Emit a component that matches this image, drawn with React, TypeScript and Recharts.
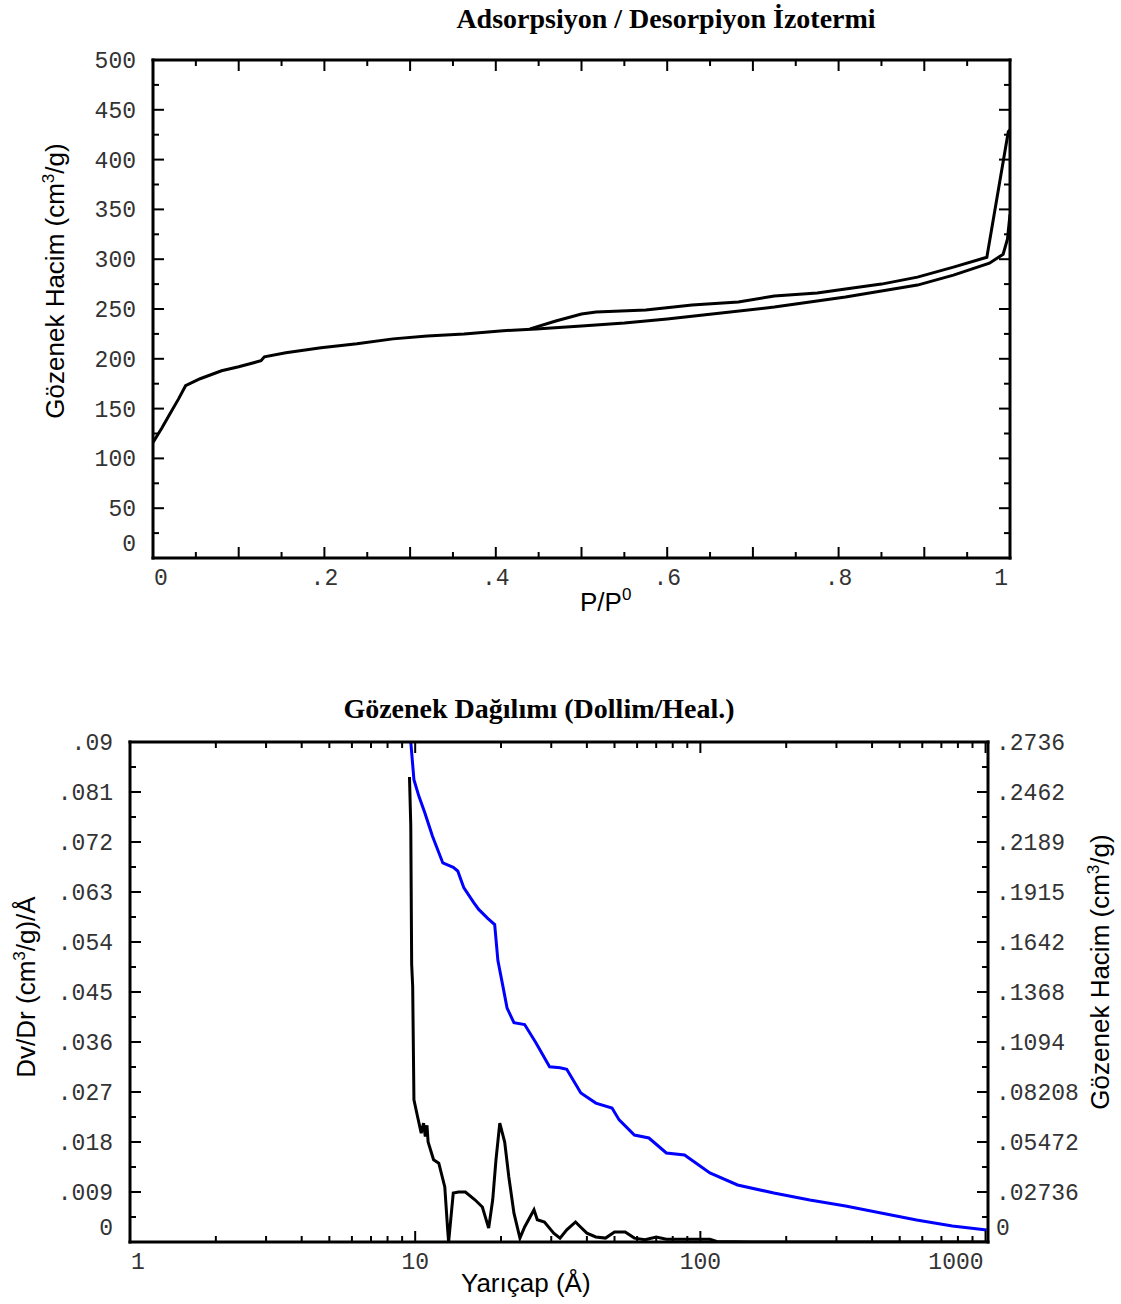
import React from "react";
import { LineChart, Line, XAxis, YAxis } from "recharts";

// --- Adsorpsiyon / desorpsiyon izotermi (P/P0, cm3/g) ---
const adsP = [0, 0.01, 0.02, 0.03, 0.038, 0.055, 0.08, 0.1, 0.126, 0.13, 0.155, 0.196, 0.238, 0.28, 0.32, 0.363, 0.405, 0.447, 0.5, 0.55, 0.6, 0.642, 0.725, 0.808, 0.85, 0.892, 0.934, 0.976, 0.992, 0.997, 1.0];
const adsV = [116, 130, 145, 160, 173, 180, 188, 192, 198, 202, 206, 211, 215, 220, 223, 225, 228, 230, 233, 236, 240, 244, 252, 262, 268, 274, 284, 296, 305, 320, 345];

const desP = [0.44, 0.47, 0.5, 0.517, 0.575, 0.629, 0.683, 0.725, 0.775, 0.808, 0.85, 0.892, 0.934, 0.973, 0.998, 1.0];
const desV = [230, 238, 245, 247, 249, 254, 257, 263, 266, 270, 275, 282, 292, 302, 428, 430];

const isoXTicks = [0, 0.05, 0.1, 0.15, 0.2, 0.25, 0.3, 0.35, 0.4, 0.45, 0.5, 0.55, 0.6, 0.65, 0.7, 0.75, 0.8, 0.85, 0.9, 0.95, 1];
const isoXLabels = ["0", "", "", "", ".2", "", "", "", ".4", "", "", "", ".6", "", "", "", ".8", "", "", "", "1"];
const isoYTicks = [0, 25, 50, 75, 100, 125, 150, 175, 200, 225, 250, 275, 300, 325, 350, 375, 400, 425, 450, 475, 500];
const isoYLabels = ["0", "", "50", "", "100", "", "150", "", "200", "", "250", "", "300", "", "350", "", "400", "", "450", "", "500"];

// --- Gözenek dağılımı (yarıçap Å) ---
const dvR = [9.55, 9.65, 9.72, 9.8, 9.9, 10.2, 10.5, 10.7, 10.85, 11.0, 11.1, 11.6, 12.1, 12.7, 13.0, 13.1, 13.6, 14.2, 15.0, 16.2, 17.2, 18.1, 18.7, 19.2, 19.8, 20.6, 21.3, 22.2, 23.3, 24.2, 26.1, 26.8, 28.4, 30.6, 32.2, 34, 36.5, 38, 40, 43, 46.5, 50, 54.5, 58.7, 64, 70, 76, 88, 108, 114, 150, 1020];
const dvVal = [0.0837, 0.075, 0.05, 0.046, 0.0256, 0.0225, 0.0196, 0.0214, 0.019, 0.021, 0.018, 0.0148, 0.0142, 0.0099, 0.0022, 0, 0.0088, 0.009, 0.009, 0.0076, 0.0063, 0.0025, 0.0076, 0.0148, 0.0214, 0.018, 0.0117, 0.0052, 0.0007, 0.0027, 0.0058, 0.004, 0.0036, 0.0016, 0.0007, 0.0022, 0.0036, 0.0027, 0.0016, 0.0009, 0.0007, 0.0018, 0.0018, 0.0007, 0.0004, 0.0009, 0.0005, 0.0005, 0.0005, 0.0001, 0, 0];

const volR = [9.55, 9.65, 9.9, 10.3, 10.8, 11.5, 12.5, 13.6, 14.1, 14.8, 16.0, 16.7, 18.0, 19.0, 19.5, 20.3, 21, 22.2, 24.2, 26.5, 29.6, 32.2, 34, 38.1, 43, 49, 51.9, 58.7, 66, 76, 88, 108, 135, 181, 242, 323, 430, 573, 765, 1010];
const volVal = [0.285, 0.2736, 0.253, 0.244, 0.235, 0.222, 0.2074, 0.205, 0.203, 0.194, 0.186, 0.182, 0.177, 0.1737, 0.154, 0.14, 0.128, 0.12, 0.119, 0.109, 0.0959, 0.0953, 0.0945, 0.0815, 0.076, 0.0733, 0.0668, 0.0585, 0.0569, 0.0487, 0.0476, 0.0378, 0.0312, 0.0268, 0.023, 0.0197, 0.0159, 0.012, 0.0088, 0.0066];

const logXTicks = [1, 2, 3, 4, 5, 6, 7, 8, 9, 10, 20, 30, 40, 50, 60, 70, 80, 90, 100, 200, 300, 400, 500, 600, 700, 800, 900, 1000];
const logXLabels = ["1", "", "", "", "", "", "", "", "", "10", "", "", "", "", "", "", "", "", "100", "", "", "", "", "", "", "", "", "1000"];
const dvTicks = [0, 0.0045, 0.009, 0.0135, 0.018, 0.0225, 0.027, 0.0315, 0.036, 0.0405, 0.045, 0.0495, 0.054, 0.0585, 0.063, 0.0675, 0.072, 0.0765, 0.081, 0.0855, 0.09];
const dvLabels = ["0", "", ".009", "", ".018", "", ".027", "", ".036", "", ".045", "", ".054", "", ".063", "", ".072", "", ".081", "", ".09"];
const volTicks = [0, 0.01368, 0.02736, 0.04104, 0.05472, 0.0684, 0.08208, 0.09576, 0.10944, 0.12312, 0.1368, 0.15048, 0.16416, 0.17784, 0.19152, 0.2052, 0.21888, 0.23256, 0.24624, 0.25992, 0.2736];
const volLabels = ["0", "", ".02736", "", ".05472", "", ".08208", "", ".1094", "", ".1368", "", ".1642", "", ".1915", "", ".2189", "", ".2462", "", ".2736"];

const adsRows = adsP.map((p, i) => ({ p, v: adsV[i] }));
const desRows = desP.map((p, i) => ({ p, v: desV[i] }));
const dvRows = dvR.map((r, i) => ({ r, v: dvVal[i] }));
const volRows = volR.map((r, i) => ({ r, v: volVal[i] }));

const MONO = '"Liberation Mono", "DejaVu Sans Mono", monospace';
const SANS = '"Liberation Sans", Arial, sans-serif';
const SERIF = '"Liberation Serif", "Times New Roman", serif';

const axisLine = { stroke: "#000", strokeWidth: 3, strokeLinecap: "square" as const };

type Side = "bottom" | "top" | "left" | "right";

// ticks pointing into the plot, labels drawn by hand
const frameTick = (side: Side, isMajor: (i: number) => boolean, labels?: string[]) => (props: any) => {
    const { x, y, index } = props;
    const len = isMajor(index) ? 11 : 6;
    let x2 = x, y2 = y;
    if (side === "bottom") y2 = y - len;
    if (side === "top") y2 = y + len;
    if (side === "left") x2 = x + len;
    if (side === "right") x2 = x - len;
    const label = labels ? labels[index] : "";
    let text = null;
    if (label) {
        const last = labels!.length - 1;
        let tx = x, ty = y, anchor: "start" | "middle" | "end" = "middle";
        if (side === "bottom") {
            ty = y + 27;
            if (index === 0) { anchor = "start"; tx = x + 1; }
            else if (index === last) { anchor = "end"; tx = x - 2; }
        } else if (side === "left") {
            anchor = "end"; tx = x - 17; ty = y + 8 - (index === 0 ? 15 : 0);
        } else if (side === "right") {
            anchor = "start"; tx = x + 8; ty = y + 8 - (index === 0 ? 15 : 0);
        }
        text = (
            <text x={tx} y={ty} textAnchor={anchor} fontFamily={MONO} fontSize={23} fill="#333">
                {label}
            </text>
        );
    }
    return (
        <g>
            <line x1={x} y1={y} x2={x2} y2={y2} stroke="#000" strokeWidth={2} />
            {text}
        </g>
    );
};

const even = (i: number) => i % 2 === 0;
const decade = (i: number) => i % 9 === 0;

const IsothermChart = () => (
    <LineChart width={1121} height={640} margin={{ top: 59, right: 110, bottom: 81, left: 152 }}>
        <XAxis xAxisId="b" type="number" dataKey="p" domain={[0, 1]} allowDataOverflow ticks={isoXTicks} interval={0}
            height={1} tickSize={0} tickMargin={0} tickLine={false} axisLine={axisLine} tick={frameTick("bottom", even, isoXLabels)} />
        <XAxis xAxisId="t" orientation="top" type="number" dataKey="p" domain={[0, 1]} allowDataOverflow ticks={isoXTicks} interval={0}
            height={1} tickSize={0} tickMargin={0} tickLine={false} axisLine={axisLine} tick={frameTick("top", even)} />
        <YAxis yAxisId="l" type="number" domain={[0, 500]} allowDataOverflow ticks={isoYTicks} interval={0}
            width={1} tickSize={0} tickMargin={0} tickLine={false} axisLine={axisLine} tick={frameTick("left", even, isoYLabels)} />
        <YAxis yAxisId="r" orientation="right" type="number" domain={[0, 500]} allowDataOverflow ticks={isoYTicks} interval={0}
            width={1} tickSize={0} tickMargin={0} tickLine={false} axisLine={axisLine} tick={frameTick("right", even)} />
        <Line data={adsRows} xAxisId="b" yAxisId="l" dataKey="v" type="linear" stroke="#000" strokeWidth={3} dot={false} isAnimationActive={false} />
        <Line data={desRows} xAxisId="b" yAxisId="l" dataKey="v" type="linear" stroke="#000" strokeWidth={3} dot={false} isAnimationActive={false} />
    </LineChart>
);

const PoreChart = () => (
    <LineChart width={1121} height={654} margin={{ top: 91, right: 132, bottom: 61, left: 129 }}>
        <XAxis xAxisId="b" type="number" scale="log" dataKey="r" domain={[1, 1020]} allowDataOverflow ticks={logXTicks} interval={0}
            height={1} tickSize={0} tickMargin={0} tickLine={false} axisLine={axisLine} tick={frameTick("bottom", decade, logXLabels)} />
        <XAxis xAxisId="t" orientation="top" type="number" scale="log" dataKey="r" domain={[1, 1020]} allowDataOverflow ticks={logXTicks} interval={0}
            height={1} tickSize={0} tickMargin={0} tickLine={false} axisLine={axisLine} tick={frameTick("top", decade)} />
        <YAxis yAxisId="l" type="number" domain={[0, 0.09]} allowDataOverflow ticks={dvTicks} interval={0}
            width={1} tickSize={0} tickMargin={0} tickLine={false} axisLine={axisLine} tick={frameTick("left", even, dvLabels)} />
        <YAxis yAxisId="r" orientation="right" type="number" domain={[0, 0.2736]} allowDataOverflow ticks={volTicks} interval={0}
            width={1} tickSize={0} tickMargin={0} tickLine={false} axisLine={axisLine} tick={frameTick("right", even, volLabels)} />
        <Line data={volRows} xAxisId="b" yAxisId="r" dataKey="v" type="linear" stroke="#0000ff" strokeWidth={3} dot={false} isAnimationActive={false} />
        <Line data={dvRows} xAxisId="b" yAxisId="l" dataKey="v" type="linear" stroke="#000" strokeWidth={3} dot={false} isAnimationActive={false} />
    </LineChart>
);

const Texts = () => (
    <svg width={1121} height={1304} style={{ position: "absolute", left: 0, top: 0, pointerEvents: "none" }}>
        <text x={666} y={28} textAnchor="middle" fontFamily={SERIF} fontWeight="bold" fontSize={28}>
            Adsorpsiyon / Desorpiyon İzotermi
        </text>
        <text transform="translate(64,281) rotate(-90)" textAnchor="middle" fontFamily={SANS} fontSize={26}>
            Gözenek Hacim (cm<tspan dy={-10} fontSize={17}>3</tspan><tspan dy={10}>/g)</tspan>
        </text>
        <text x={580} y={611} fontFamily={SANS} fontSize={26}>
            P/P<tspan dy={-11} fontSize={17}>0</tspan>
        </text>

        <text x={539} y={718} textAnchor="middle" fontFamily={SERIF} fontWeight="bold" fontSize={28}>
            Gözenek Dağılımı (Dollim/Heal.)
        </text>
        <text transform="translate(35,987) rotate(-90)" textAnchor="middle" fontFamily={SANS} fontSize={26}>
            Dv/Dr (cm<tspan dy={-10} fontSize={17}>3</tspan><tspan dy={10}>/g)/Å</tspan>
        </text>
        <text transform="translate(1109,972) rotate(-90)" textAnchor="middle" fontFamily={SANS} fontSize={26}>
            Gözenek Hacim (cm<tspan dy={-10} fontSize={17}>3</tspan><tspan dy={10}>/g)</tspan>
        </text>
        <text x={461} y={1292} fontFamily={SANS} fontSize={26}>
            Yarıçap (Å)
        </text>
    </svg>
);

export default function App() {
    return (
        <div style={{ position: "absolute", left: 0, top: 0, width: 1121, height: 1304, background: "#fff" }}>
            <div style={{ position: "absolute", left: 0, top: 0 }}>
                <IsothermChart />
            </div>
            <div style={{ position: "absolute", left: 0, top: 650 }}>
                <PoreChart />
            </div>
            <Texts />
        </div>
    );
}
